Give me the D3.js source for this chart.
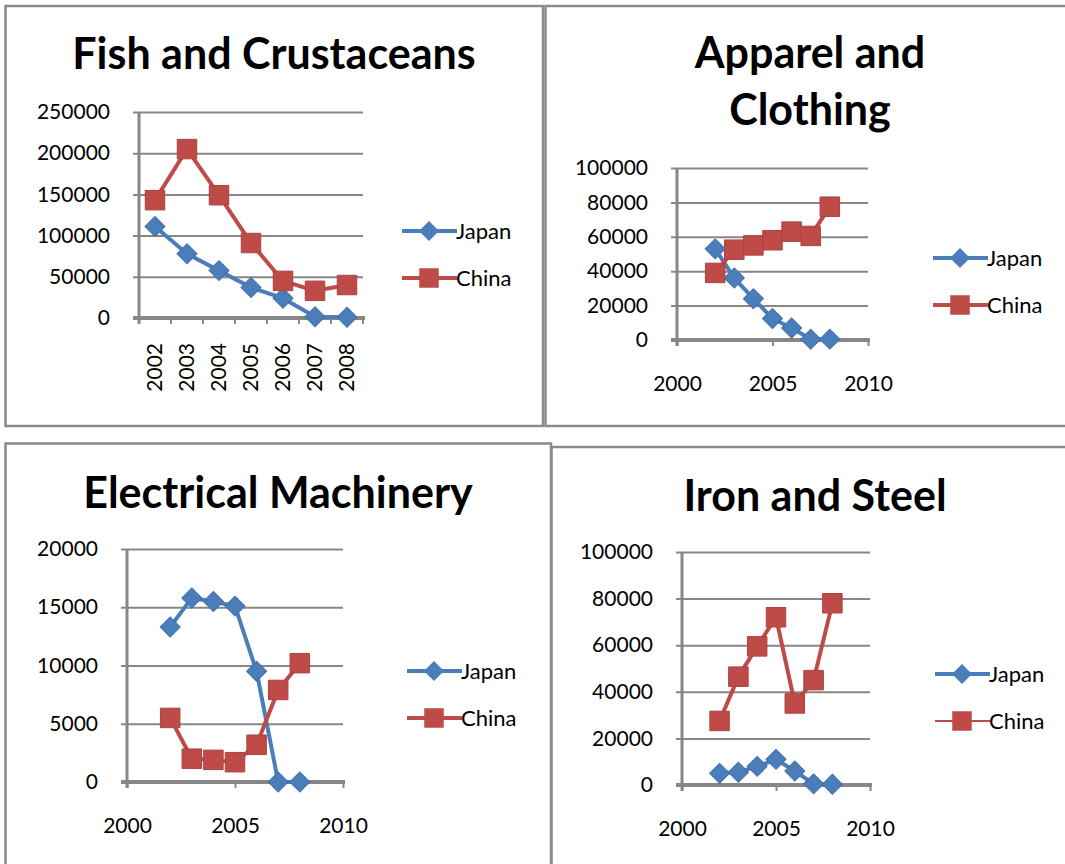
<!DOCTYPE html>
<html>
<head>
<meta charset="utf-8">
<script src="https://cdn.jsdelivr.net/npm/d3@7"></script>
<style>
    body { margin: 0; background: #fff; }
    svg { font-family: Lato, "Open Sans", sans-serif; }
</style>
</head>
<body>
<svg id="chart" width="1065" height="864"></svg>
<script>
// values
const years = [2002, 2003, 2004, 2005, 2006, 2007, 2008];
const seriesNames = ['Japan', 'China'];

const fishJapan = [111000, 78000, 57500, 37000, 24000, 1500, 1000];
const fishChina = [143000, 205000, 149000, 91000, 45000, 33000, 40000];
const apparelJapan = [53000, 36000, 24000, 12500, 7000, 500, 500];
const apparelChina = [39000, 52500, 55000, 58000, 63000, 60500, 77500];
const electricalJapan = [13300, 15800, 15500, 15100, 9500, 0, 0];
const electricalChina = [5500, 2000, 1900, 1700, 3200, 7900, 10200];
const ironJapan = [5000, 5500, 8000, 11000, 6000, 500, 300];
const ironChina = [27500, 46500, 59500, 72000, 35000, 45000, 78000];

const fishTicks = [0, 50000, 100000, 150000, 200000, 250000];
const hundredTicks = [0, 20000, 40000, 60000, 80000, 100000];
const electricalTicks = [0, 5000, 10000, 15000, 20000];
const yearTicks = [2000, 2005, 2010];

const blue = '#4a7ebb';
const red = '#be4b48';
const grey = '#878787';

const svg = d3.select('#chart');

// panel frames
const frames = [
    [5.5, 6, 537.5, 420],
    [545.5, 6, 540, 420],
    [5.5, 443.5, 545.5, 440],
    [551.5, 447, 540, 440]
];
svg.selectAll('rect.frame')
    .data(frames)
    .enter().append('rect')
    .attr('class', 'frame')
    .attr('x', d => d[0]).attr('y', d => d[1])
    .attr('width', d => d[2]).attr('height', d => d[3])
    .attr('fill', 'none')
    .attr('stroke', '#8a8a8a')
    .attr('stroke-width', 2.5);

function lineChart(cfg) {
    const g = svg.append('g');
    const yMax = cfg.yTicks[cfg.yTicks.length - 1];
    const y = d3.scaleLinear().domain([0, yMax]).range([cfg.bottom, cfg.top]);

    let x;
    let xPos;
    if (cfg.category) {
        x = d3.scaleBand().domain(years).range([cfg.left, cfg.right]);
        xPos = d => x(d) + x.bandwidth() / 2;
    } else {
        x = d3.scaleLinear().domain([yearTicks[0], yearTicks[yearTicks.length - 1]]).range([cfg.left, cfg.right]);
        xPos = d => x(d);
    }

    // title
    g.append('text')
        .attr('x', cfg.titleX)
        .attr('y', cfg.titleY)
        .attr('text-anchor', 'middle')
        .style('font-weight', 'bold')
        .style('font-size', '43px')
        .selectAll('tspan')
        .data(cfg.title)
        .enter().append('tspan')
        .attr('x', cfg.titleX)
        .attr('dy', (d, i) => i ? 57 : 0)
        .text(d => d);

    // gridlines + y labels
    const yAxis = g.append('g')
        .attr('transform', `translate(${cfg.right},0)`)
        .call(d3.axisLeft(y)
            .tickValues(cfg.yTicks)
            .tickSize(cfg.right - cfg.left + 6)
            .tickPadding(23)
            .tickFormat(d3.format('d')));
    yAxis.select('.domain').remove();
    yAxis.selectAll('line').attr('stroke', grey).attr('stroke-width', 2);
    yAxis.selectAll('text')
        .attr('fill', '#000')
        .style('font-size', '21px')
        .style('font-family', 'Lato, "Open Sans", sans-serif');

    // y axis line
    g.append('line')
        .attr('x1', cfg.left).attr('x2', cfg.left)
        .attr('y1', cfg.top).attr('y2', cfg.bottom + 6)
        .attr('stroke', grey).attr('stroke-width', 3);

    // x axis
    if (cfg.category) {
        const bounds = d3.range(years.length + 1).map(i => cfg.left + i * x.step());
        g.selectAll('line.xtick')
            .data(bounds)
            .enter().append('line')
            .attr('x1', d => d).attr('x2', d => d)
            .attr('y1', cfg.bottom).attr('y2', cfg.bottom + 6)
            .attr('stroke', grey).attr('stroke-width', 2);
        g.selectAll('text.xlab')
            .data(years)
            .enter().append('text')
            .attr('transform', d => `translate(${xPos(d) + 7},${cfg.bottom + 25}) rotate(-90)`)
            .attr('text-anchor', 'end')
            .style('font-size', '21px')
            .text(d => d);
    } else {
        const xAxis = g.append('g')
            .attr('transform', `translate(0,${cfg.bottom})`)
            .call(d3.axisBottom(x)
                .tickValues(yearTicks)
                .tickSize(6)
                .tickPadding(30)
                .tickFormat(d3.format('d')));
        xAxis.select('.domain').remove();
        xAxis.selectAll('line').attr('stroke', grey).attr('stroke-width', 2);
        xAxis.selectAll('text')
            .attr('fill', '#000')
            .style('font-size', '21px')
            .style('font-family', 'Lato, "Open Sans", sans-serif');
    }
    g.append('line')
        .attr('x1', cfg.left - 6).attr('x2', cfg.right + 2)
        .attr('y1', cfg.bottom).attr('y2', cfg.bottom)
        .attr('stroke', grey).attr('stroke-width', 4);

    // series
    const series = [
        { name: seriesNames[0], values: cfg.japan, color: blue, symbol: 'diamond' },
        { name: seriesNames[1], values: cfg.china, color: red, symbol: 'square' }
    ];
    const line = d3.line()
        .x((d, i) => xPos(years[i]))
        .y(d => y(d));

    series.forEach(s => {
        g.append('path')
            .attr('d', line(s.values))
            .attr('fill', 'none')
            .attr('stroke', s.color)
            .attr('stroke-width', 4)
            .attr('stroke-linejoin', 'round');
        g.selectAll(null)
            .data(s.values)
            .enter().append('path')
            .attr('d', marker(s.symbol))
            .attr('transform', (d, i) => `translate(${xPos(years[i])},${y(d)})` + (s.symbol === 'diamond' ? ' rotate(45)' : ''))
            .attr('fill', s.color)
            .attr('stroke', d3.color(s.color).darker(0.3))
            .attr('stroke-width', 1);
    });

    // legend
    series.forEach((s, i) => {
        const ly = cfg.legendY + i * 47;
        const lg = g.append('g');
        lg.append('line')
            .attr('x1', cfg.legendX).attr('x2', cfg.legendX + 55)
            .attr('y1', ly).attr('y2', ly)
            .attr('stroke', s.color)
            .attr('stroke-width', (cfg.thinChina && i === 1) ? 2 : 4);
        lg.append('path')
            .attr('d', marker(s.symbol))
            .attr('transform', `translate(${cfg.legendX + 27},${ly})` + (s.symbol === 'diamond' ? ' rotate(45)' : ''))
            .attr('fill', s.color);
        lg.append('text')
            .attr('x', cfg.legendX + 54)
            .attr('y', ly + 8)
            .style('font-size', '22px')
            .text(s.name);
    });
}

function marker(type) {
    if (type === 'diamond') {
        return d3.symbol().type(d3.symbolSquare).size(200)();
    }
    return d3.symbol().type(d3.symbolSquare).size(380)();
}

lineChart({
    title: ['Fish and Crustaceans'], titleX: 274, titleY: 69,
    left: 139, right: 363, top: 112, bottom: 318,
    yTicks: fishTicks, category: true,
    japan: fishJapan, china: fishChina,
    legendX: 402, legendY: 231
});

lineChart({
    title: ['Apparel and', 'Clothing'], titleX: 810, titleY: 68,
    left: 677, right: 868, top: 168, bottom: 340,
    yTicks: hundredTicks,
    japan: apparelJapan, china: apparelChina,
    legendX: 933, legendY: 258
});

lineChart({
    title: ['Electrical Machinery'], titleX: 278, titleY: 508,
    left: 127, right: 343, top: 549, bottom: 782,
    yTicks: electricalTicks,
    japan: electricalJapan, china: electricalChina,
    legendX: 407, legendY: 671
});

lineChart({
    title: ['Iron and Steel'], titleX: 815, titleY: 511,
    left: 682, right: 870, top: 552, bottom: 785,
    yTicks: hundredTicks,
    japan: ironJapan, china: ironChina,
    legendX: 935, legendY: 674, thinChina: true
});
</script>
</body>
</html>
